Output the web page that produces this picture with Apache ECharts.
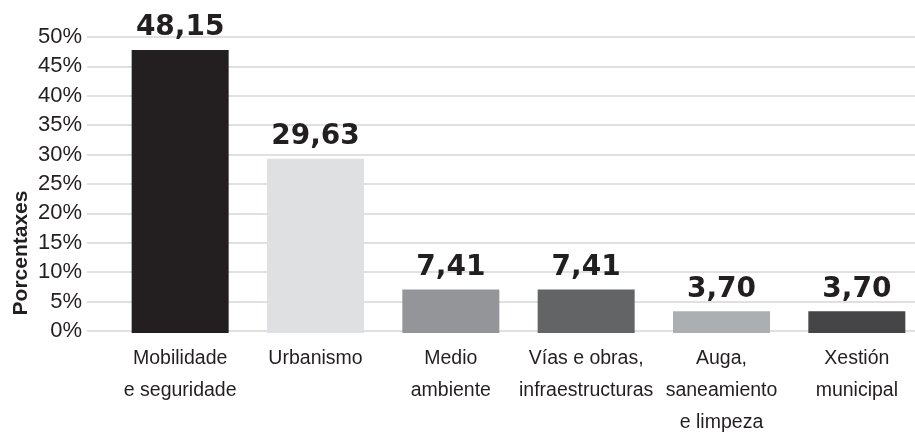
<!DOCTYPE html>
<html>
<head>
<meta charset="utf-8">
<script src="https://cdn.jsdelivr.net/npm/echarts@6/dist/echarts.min.js"></script>
<style>
html,body{margin:0;padding:0;background:#fff;}
#chart{width:915px;height:433px;}
</style>
</head>
<body>
<div id="chart"></div>
<script>
const categories = ["Mobilidade\ne seguridade", "Urbanismo", "Medio\nambiente", "Vías e obras,\ninfraestructuras", "Auga,\nsaneamiento\ne limpeza", "Xestión\nmunicipal"];
const values = [48.15, 29.63, 7.41, 7.41, 3.70, 3.70];
const barColors = ["#231f20", "#dfe0e2", "#939598", "#636466", "#acafb1", "#454547"];
const yTicks = {min: 0, max: 50, interval: 5};
const yTitle = "Porcentaxes";

const chart = echarts.init(document.getElementById('chart'), null, {renderer: 'canvas'});
const option = {
  animation: false,
  backgroundColor: '#ffffff',
  grid: [
    {left: 87, right: 0, top: 37, bottom: 102, outerBoundsMode: 'none', containLabel: false},
    {left: 112.5, right: -9.5, top: 39, bottom: 100, outerBoundsMode: 'none', containLabel: false}
  ],
  xAxis: [
    {gridIndex: 0, type: 'category', data: categories, show: false},
    {gridIndex: 1, type: 'category', data: categories,
     axisLine: {show: false}, axisTick: {show: false},
     axisLabel: {interval: 0, margin: 10, color: '#231f20', fontFamily: '"Liberation Sans", Arial, sans-serif', fontSize: 19.5, lineHeight: 32}}
  ],
  yAxis: [
    {gridIndex: 0, type: 'value', min: yTicks.min, max: yTicks.max, interval: yTicks.interval,
     axisLine: {show: false}, axisTick: {show: false},
     axisLabel: {formatter: '{value}%', margin: 5, color: '#231f20', fontFamily: '"Liberation Sans", Arial, sans-serif', fontSize: 22},
     splitLine: {lineStyle: {color: '#d6d6d6', width: 1.5}}},
    {gridIndex: 1, type: 'value', min: yTicks.min, max: yTicks.max, interval: yTicks.interval, show: false}
  ],
  graphic: [{
    type: 'text', x: 21, y: 253, rotation: Math.PI / 2,
    style: {text: yTitle, font: 'bold 21px "Liberation Sans", Arial, sans-serif', fill: '#231f20', textAlign: 'center', textVerticalAlign: 'middle'}
  }],
  series: [{
    type: 'bar', xAxisIndex: 1, yAxisIndex: 1, barWidth: 97,
    data: values.map((v, i) => ({value: v, itemStyle: {color: barColors[i]}})),
    label: {show: true, position: 'top', distance: 8, color: '#231f20',
      fontFamily: '"DejaVu Sans", Verdana, sans-serif', fontWeight: 'bold', fontSize: 28,
      formatter: p => p.value.toFixed(2).replace('.', ',')}
  }]
};
chart.setOption(option);
</script>
</body>
</html>
